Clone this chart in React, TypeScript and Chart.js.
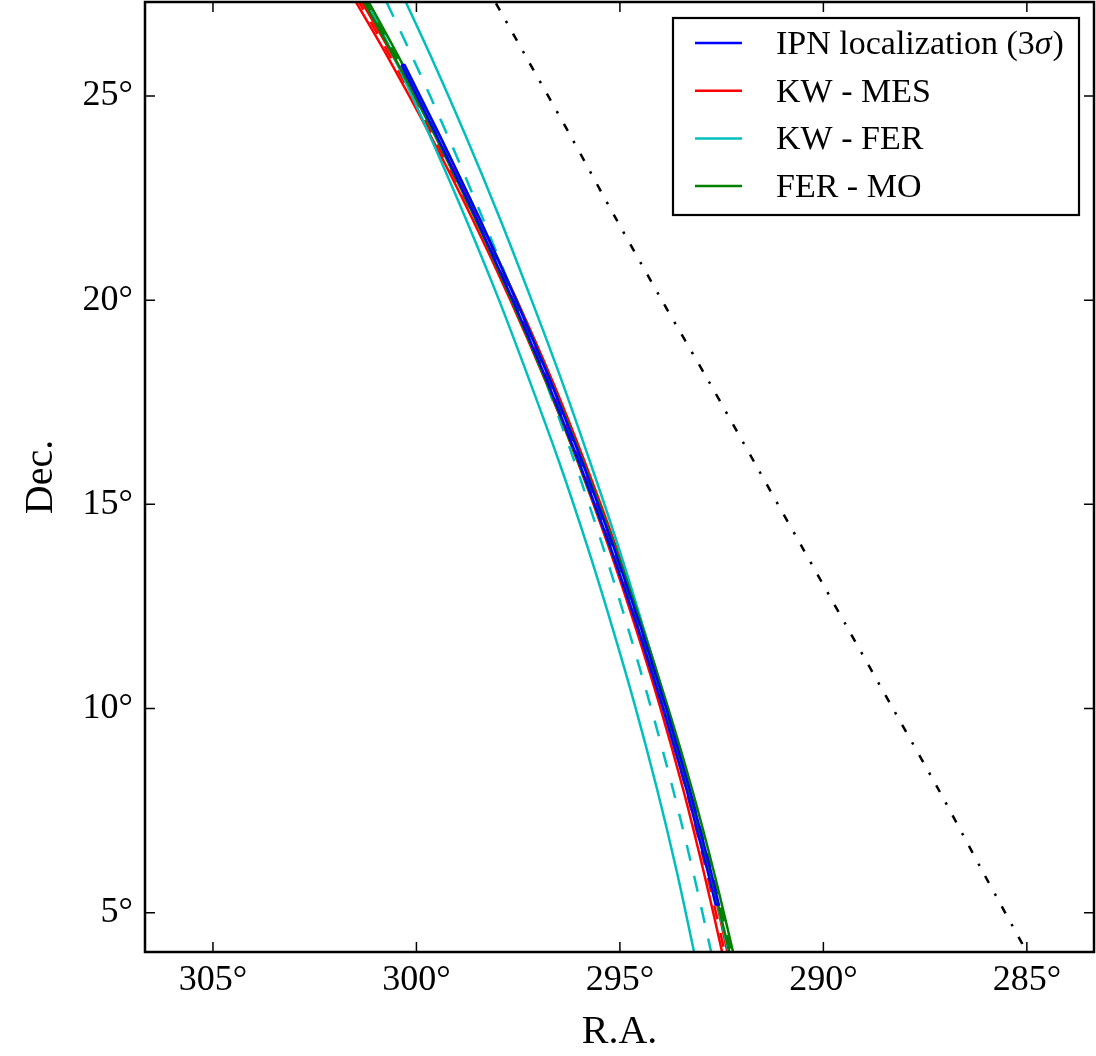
import React, { useEffect, useRef } from 'react';
import { Chart, registerables } from 'chart.js';

Chart.register(...registerables);

// Declination sample levels (deg) shared by the annulus curves
const decLevels = [28, 26, 24, 22, 20, 18, 16, 14, 12, 10, 8, 6, 4, 3];

// KW - MES annulus (R.A., deg)
const kwMesEast = [301.90, 300.73, 299.64, 298.63, 297.69, 296.82, 296.02, 295.29, 294.62, 294.00, 293.44, 292.94, 292.48, 292.28];
const kwMesCenter = [301.82, 300.66, 299.58, 298.56, 297.61, 296.74, 295.94, 295.20, 294.53, 293.92, 293.37, 292.87, 292.42, 292.22];
const kwMesWest = [301.75, 300.59, 299.51, 298.48, 297.53, 296.65, 295.85, 295.11, 294.44, 293.84, 293.29, 292.79, 292.35, 292.15];

// KW - FER annulus
const kwFerEast = [301.54, 300.57, 299.66, 298.79, 297.97, 297.21, 296.48, 295.81, 295.19, 294.61, 294.08, 293.60, 293.17, 292.97];
const kwFerCenter = [301.07, 300.12, 299.22, 298.37, 297.57, 296.82, 296.10, 295.43, 294.81, 294.23, 293.69, 293.20, 292.75, 292.54];
const kwFerWest = [300.59, 299.66, 298.78, 297.95, 297.17, 296.42, 295.72, 295.05, 294.43, 293.84, 293.30, 292.79, 292.32, 292.11];

// FER - MO annulus
const ferMoEast = [301.67, 300.57, 299.53, 298.56, 297.66, 296.81, 296.01, 295.26, 294.56, 293.92, 293.33, 292.79, 292.30, 292.08];
const ferMoCenter = [301.62, 300.52, 299.48, 298.51, 297.60, 296.75, 295.95, 295.20, 294.51, 293.87, 293.28, 292.74, 292.26, 292.04];
const ferMoWest = [301.56, 300.46, 299.42, 298.45, 297.54, 296.69, 295.89, 295.14, 294.45, 293.81, 293.22, 292.69, 292.21, 291.99];

// Black dash-dot curve
const blackCurve = [298.46, 297.33, 296.20, 295.10, 293.97, 292.81, 291.68, 290.55, 289.42, 288.29, 287.16, 286.08, 284.98, 284.44];

// IPN localization box (3 sigma)
const ipnDec = [25.76, 24, 22, 20, 18, 16, 14, 12, 10, 8, 6, 5.2];
const ipnEast = [300.37, 299.49, 298.53, 297.63, 296.78, 295.99, 295.25, 294.57, 293.94, 293.36, 292.84, 292.65];
const ipnWest = [300.29, 299.41, 298.45, 297.55, 296.70, 295.91, 295.17, 294.49, 293.86, 293.28, 292.76, 292.57];

// Axes
const raTicks = [305, 300, 295, 290, 285];
const decTicks = [5, 10, 15, 20, 25];
const raMin = 283.35;
const raMax = 306.67;
const decMin = 4.04;
const decMax = 27.3;

// Legend
const legendLabels = ['IPN localization (3σ)', 'KW - MES', 'KW - FER', 'FER - MO'];
const legendColors = ['#0000ff', '#ff0000', '#00bfbf', '#008000'];

const SERIF = '"Liberation Serif", "DejaVu Serif", serif';

const pts = (ras: number[], decs: number[]) => ras.map((r, i) => ({ x: r, y: decs[i] }));

function curve(ras: number[], color: string, dash: number[] = [], width = 2.5) {
  return {
    data: pts(ras, decLevels),
    borderColor: color,
    borderWidth: width,
    borderDash: dash,
    pointRadius: 0,
    showLine: true,
    tension: 0.3,
    fill: false,
  };
}

const framePlugin = {
  id: 'frameAndLegend',
  afterDraw(chart: any) {
    const { ctx, chartArea: a, scales } = chart;
    ctx.save();
    ctx.strokeStyle = '#000';
    ctx.lineWidth = 1.5;
    const L = 10;
    ctx.beginPath();
    for (const v of raTicks) {
      const x = scales.x.getPixelForValue(v);
      ctx.moveTo(x, a.bottom); ctx.lineTo(x, a.bottom - L);
      ctx.moveTo(x, a.top); ctx.lineTo(x, a.top + L);
    }
    for (const v of decTicks) {
      const y = scales.y.getPixelForValue(v);
      ctx.moveTo(a.left, y); ctx.lineTo(a.left + L, y);
      ctx.moveTo(a.right, y); ctx.lineTo(a.right - L, y);
    }
    ctx.stroke();
    ctx.lineWidth = 2.5;
    ctx.strokeRect(a.left, a.top, a.right - a.left, a.bottom - a.top);

    // legend
    const bw = 406, bh = 197;
    const bx = a.right - 15 - bw;
    const by = a.top + 16;
    ctx.fillStyle = '#fff';
    ctx.fillRect(bx, by, bw, bh);
    ctx.lineWidth = 2.2;
    ctx.strokeStyle = '#000';
    ctx.strokeRect(bx, by, bw, bh);
    const fs = 34;
    legendLabels.forEach((lab, i) => {
      const ry = by + 25 + i * 47.7;
      ctx.strokeStyle = legendColors[i];
      ctx.lineWidth = 2.5;
      ctx.beginPath();
      ctx.moveTo(bx + 22, ry);
      ctx.lineTo(bx + 69, ry);
      ctx.stroke();
      ctx.fillStyle = '#000';
      ctx.textBaseline = 'alphabetic';
      ctx.textAlign = 'left';
      const tx = bx + 103;
      const ty = ry + 11;
      const sIdx = lab.indexOf('σ');
      if (sIdx >= 0) {
        const pre = lab.slice(0, sIdx);
        const post = lab.slice(sIdx + 1);
        ctx.font = `${fs}px ${SERIF}`;
        ctx.fillText(pre, tx, ty);
        let cx = tx + ctx.measureText(pre).width;
        ctx.font = `italic ${fs}px ${SERIF}`;
        ctx.fillText('σ', cx, ty);
        cx += ctx.measureText('σ').width + 1;
        ctx.font = `${fs}px ${SERIF}`;
        ctx.fillText(post, cx, ty);
      } else {
        ctx.font = `${fs}px ${SERIF}`;
        ctx.fillText(lab, tx, ty);
      }
    });
    ctx.restore();
  },
};

export default function App() {
  const ref = useRef<HTMLCanvasElement | null>(null);
  useEffect(() => {
    if (!ref.current) return;
    const ipnPoly = [
      ...ipnEast.map((r, i) => ({ x: r, y: ipnDec[i] })),
      ...ipnWest.map((r, i) => ({ x: r, y: ipnDec[i] })).reverse(),
      { x: ipnEast[0], y: ipnDec[0] },
    ];
    const chart = new Chart(ref.current, {
      type: 'scatter',
      data: {
        datasets: [
          {
            data: ipnPoly,
            borderColor: '#0000ff',
            borderWidth: 2.5,
            pointRadius: 0,
            showLine: true,
            tension: 0,
            fill: false,
          } as any,
          curve(ferMoEast, '#008000'),
          curve(ferMoWest, '#008000'),
          curve(ferMoCenter, '#008000', [14, 14]),
          curve(kwFerEast, '#00bfbf'),
          curve(kwFerWest, '#00bfbf'),
          curve(kwFerCenter, '#00bfbf', [16, 16]),
          curve(kwMesEast, '#ff0000'),
          curve(kwMesWest, '#ff0000'),
          curve(kwMesCenter, '#ff0000', [14, 14]),
          curve(blackCurve, '#000000', [8, 12, 2.5, 12], 2.5),
        ],
      },
      options: {
        animation: false,
        responsive: false,
        maintainAspectRatio: false,
        layout: { padding: { top: 2, right: 2, left: 0, bottom: 0 } },
        plugins: {
          legend: { display: false },
          tooltip: { enabled: false },
        },
        scales: {
          x: {
            type: 'linear',
            reverse: true,
            min: raMin,
            max: raMax,
            grid: { display: false, drawTicks: false },
            border: { display: false },
            ticks: {
              autoSkip: false,
              maxRotation: 0,
              padding: 7,
              color: '#000',
              font: { family: SERIF, size: 36 },
              callback: (v: any) => `${v}°`,
            },
            afterBuildTicks: (s: any) => {
              s.ticks = raTicks.map((v) => ({ value: v }));
            },
            afterFit: (s: any) => {
              s.height = 104;
              s.paddingLeft = 0;
              s.paddingRight = 0;
            },
            title: {
              display: true,
              text: 'R.A.',
              color: '#000',
              font: { family: SERIF, size: 40 },
              padding: { top: 0, bottom: 0 },
            },
          },
          y: {
            type: 'linear',
            min: decMin,
            max: decMax,
            grid: { display: false, drawTicks: false },
            border: { display: false },
            ticks: {
              autoSkip: false,
              padding: 12,
              color: '#000',
              font: { family: SERIF, size: 36 },
              callback: (v: any) => `${v}°`,
            },
            afterBuildTicks: (s: any) => {
              s.ticks = decTicks.map((v) => ({ value: v }));
            },
            afterFit: (s: any) => {
              s.width = 145;
              s.paddingTop = 0;
              s.paddingBottom = 0;
            },
            title: {
              display: true,
              text: 'Dec.',
              color: '#000',
              font: { family: SERIF, size: 40 },
              padding: { top: 17, bottom: 0 },
            },
          },
        },
      } as any,
      plugins: [framePlugin],
    });
    return () => chart.destroy();
  }, []);
  return (
    <div style={{ position: 'absolute', left: 0, top: 0, width: 1096, height: 1056, background: '#fff' }}>
      <canvas ref={ref} width={1096} height={1056} style={{ display: 'block' }} />
    </div>
  );
}
